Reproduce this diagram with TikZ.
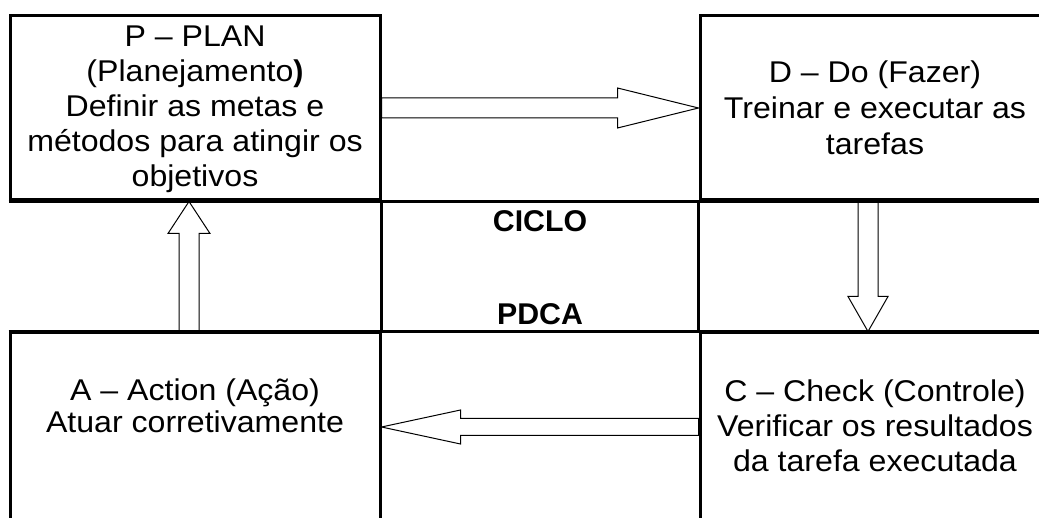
\documentclass[tikz,border=0pt]{standalone}
\usepackage{fontspec}
\setmainfont{Liberation Sans}[FakeStretch=1.07, BoldFeatures={FakeStretch=1.01}]
\usetikzlibrary{calc}

\tikzset{
  cell/.style={draw, line width=3pt, rectangle, inner sep=0pt},
  rule/.style={line width=3pt},
  celltext/.style={align=center, inner sep=0pt, font=\fontsize{30}{35}\selectfont},
  title/.style={anchor=base, inner sep=0pt, font=\fontsize{30}{35}\selectfont\bfseries},
  blockarrow/.style={draw, line width=1pt, line join=miter}
}

% hollow block arrow: #1 start, #2 tip, #3 shaft half-width,
% #4 head half-width, #5 head length
\newcommand\fatarrow[5]{%
  \draw[blockarrow] let \p1=(#1), \p2=(#2),
      \n1={atan2(\y2-\y1,\x2-\x1)}, \n2={veclen(\x2-\x1,\y2-\y1)} in
    [shift={(\p1)}, rotate=\n1]
    (0,#3) -- ({\n2-#5},#3) -- ({\n2-#5},#4) -- (\n2,0)
    -- ({\n2-#5},-#4) -- ({\n2-#5},-#3) -- (0,-#3) -- cycle;}

\begin{document}
\begin{tikzpicture}[x=1pt, y=-1pt]
  \useasboundingbox (0,0) rectangle (1039,518);
  \clip (0,0) rectangle (1039,518);

  % the four stages
  \node[cell, minimum width=370pt, minimum height=184pt] (plan)  at (195,108) {};
  \node[cell, minimum width=350pt, minimum height=184pt] (do)    at (875,108) {};
  \node[cell, minimum width=370pt, minimum height=188pt] (act)   at (195,427) {};
  \node[cell, minimum width=350pt, minimum height=188pt] (check) at (875,427) {};

  % rules of the middle band
  \draw[rule] (plan.south west) -- (do.south east);
  \draw[rule] (act.north west) -- (check.north east);
  \draw[rule] (plan.south east) -- (act.north east);
  \draw[rule] (do.south west) -- (check.north west);

  % texts
  \node[celltext] (plantext) at ($(plan.center)+(0,1.5)$)
    {P – PLAN\\(Planejamento\textbf{)}\\Definir as metas e\\métodos para atingir os\\objetivos};
  \node[celltext, font=\fontsize{30}{36}\selectfont] (dotext) at (do.center)
    {D – Do (Fazer)\\Treinar e executar as\\tarefas};
  \node[celltext, font=\fontsize{30}{32}\selectfont] (acttext) at ($(act.center)+(0,-21)$)
    {A – Action (Ação)\\Atuar corretivamente};
  \node[celltext] (checktext) at ($(check.center)+(0,-1)$)
    {C – Check (Controle)\\Verificar os resultados\\da tarefa executada};

  \node[title] (ciclo) at (540,232) {CICLO};
  \node[title] (pdca)  at (540,325) {PDCA};

  % flow of the cycle
  \fatarrow{plan.east}{do.west}{10}{20}{81}
  \fatarrow{$(do.south)+(-7,0)$}{$(check.north)+(-7,0)$}{10}{20}{35}
  \fatarrow{check.west}{act.east}{8.5}{17}{79}
  \fatarrow{$(act.north)+(-6,0)$}{$(plan.south)+(-6,0)$}{10}{21}{32}
\end{tikzpicture}
\end{document}
